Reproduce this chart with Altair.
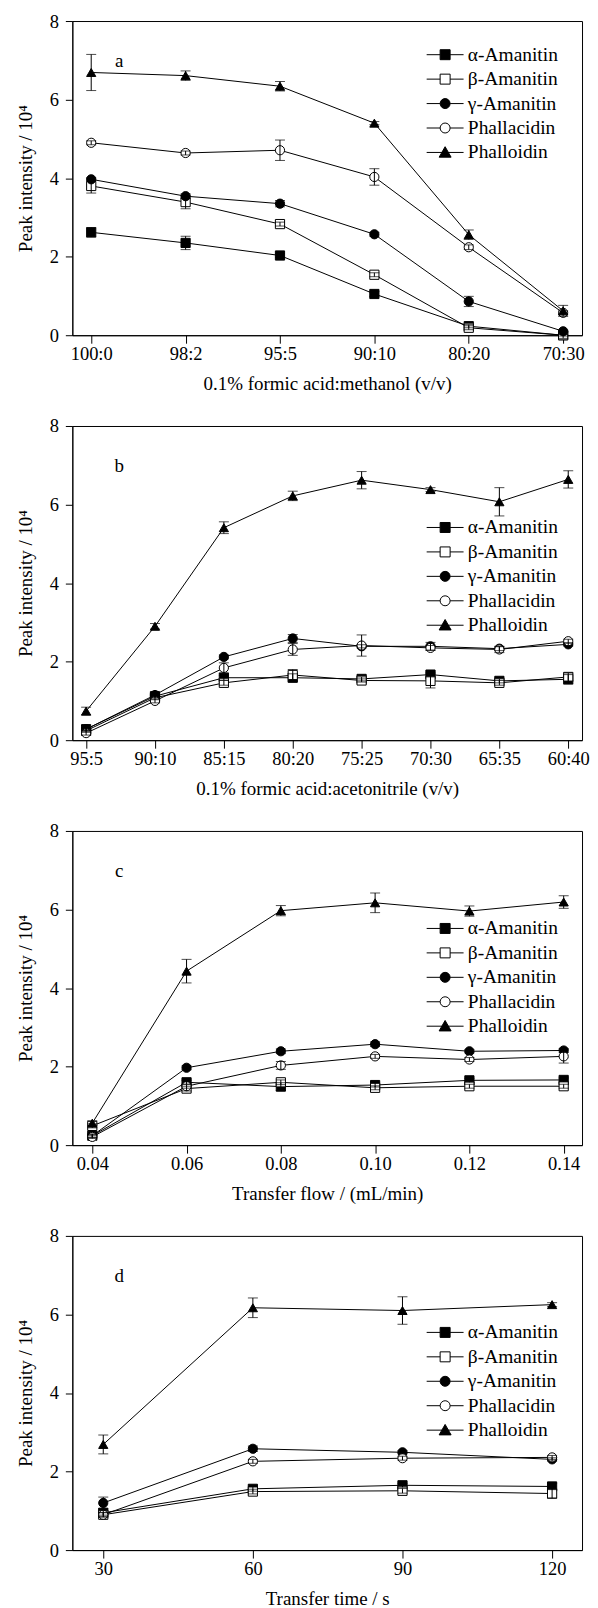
import altair as alt
import pandas as pd

series = ["α-Amanitin", "β-Amanitin", "γ-Amanitin", "Phallacidin", "Phalloidin"]
point_shapes = ["square", "square", "circle", "circle", "triangle-up"]
fills = ["black", "white", "black", "white", "black"]
legend_shapes = [
    "M-3.7,0H-1M1,0H3.7M-1,-1H1V1H-1Z",
    "M-3.7,0H-1M1,0H3.7M-1,-1H1V1H-1Z",
    "M-3.7,0H-1M1,0H3.7M-1,0A1,1,0,1,0,1,0A1,1,0,1,0,-1,0Z",
    "M-3.7,0H-1M1,0H3.7M-1,0A1,1,0,1,0,1,0A1,1,0,1,0,-1,0Z",
    "M-3.7,0H-0.5M0.5,0H3.7M0,-1.15L1.2,0.95H-1.2Z",
]

# Panel a: 0.1% formic acid:methanol
a_x = ["100:0", "98:2", "95:5", "90:10", "80:20", "70:30"]
a_vals = {
    "α-Amanitin": [2.62, 2.35, 2.03, 1.05, 0.23, 0.00],
    "β-Amanitin": [3.80, 3.39, 2.83, 1.54, 0.19, 0.00],
    "γ-Amanitin": [3.97, 3.54, 3.35, 2.57, 0.86, 0.10],
    "Phallacidin": [4.90, 4.64, 4.71, 4.03, 2.24, 0.57],
    "Phalloidin": [6.69, 6.61, 6.34, 5.40, 2.56, 0.62],
}
a_errs = {
    "α-Amanitin": [0.12, 0.17, 0.05, 0.06, 0.04, 0.02],
    "β-Amanitin": [0.18, 0.17, 0.05, 0.05, 0.05, 0.08],
    "γ-Amanitin": [0.04, 0.06, 0.08, 0.05, 0.13, 0.03],
    "Phallacidin": [0.05, 0.05, 0.26, 0.21, 0.06, 0.05],
    "Phalloidin": [0.46, 0.12, 0.12, 0.04, 0.12, 0.14],
}

# Panel b: 0.1% formic acid:acetonitrile
b_x = ["95:5", "90:10", "85:15", "80:20", "75:25", "70:30", "65:35", "60:40"]
b_vals = {
    "α-Amanitin": [0.28, 1.12, 1.59, 1.59, 1.56, 1.67, 1.51, 1.55],
    "β-Amanitin": [0.24, 1.08, 1.46, 1.66, 1.52, 1.51, 1.46, 1.61],
    "γ-Amanitin": [0.28, 1.15, 2.12, 2.59, 2.39, 2.39, 2.33, 2.44],
    "Phallacidin": [0.18, 1.00, 1.84, 2.31, 2.41, 2.35, 2.31, 2.52],
    "Phalloidin": [0.74, 2.90, 5.41, 6.22, 6.62, 6.38, 6.07, 6.64],
}
b_errs = {
    "α-Amanitin": [0.04, 0.04, 0.06, 0.10, 0.05, 0.06, 0.05, 0.12],
    "β-Amanitin": [0.04, 0.05, 0.06, 0.14, 0.04, 0.18, 0.06, 0.10],
    "γ-Amanitin": [0.04, 0.05, 0.05, 0.10, 0.04, 0.10, 0.05, 0.04],
    "Phallacidin": [0.05, 0.05, 0.13, 0.15, 0.27, 0.06, 0.08, 0.05],
    "Phalloidin": [0.10, 0.07, 0.15, 0.12, 0.22, 0.05, 0.36, 0.22],
}

# Panel c: transfer flow
c_x = [0.04, 0.06, 0.08, 0.10, 0.12, 0.14]
c_vals = {
    "α-Amanitin": [0.24, 1.60, 1.49, 1.53, 1.65, 1.66],
    "β-Amanitin": [0.49, 1.44, 1.60, 1.46, 1.50, 1.50],
    "γ-Amanitin": [0.24, 1.97, 2.39, 2.57, 2.39, 2.41],
    "Phallacidin": [0.21, 1.50, 2.03, 2.26, 2.18, 2.26],
    "Phalloidin": [0.56, 4.43, 5.97, 6.17, 5.96, 6.19],
}
c_errs = {
    "α-Amanitin": [0.04, 0.05, 0.10, 0.05, 0.05, 0.05],
    "β-Amanitin": [0.05, 0.06, 0.06, 0.05, 0.05, 0.05],
    "γ-Amanitin": [0.04, 0.05, 0.06, 0.06, 0.04, 0.05],
    "Phallacidin": [0.04, 0.05, 0.10, 0.05, 0.05, 0.17],
    "Phalloidin": [0.06, 0.30, 0.13, 0.25, 0.13, 0.16],
}

# Panel d: transfer time
d_x = [30, 60, 90, 120]
d_vals = {
    "α-Amanitin": [0.95, 1.56, 1.65, 1.62],
    "β-Amanitin": [0.90, 1.49, 1.51, 1.44],
    "γ-Amanitin": [1.20, 2.58, 2.49, 2.31],
    "Phallacidin": [0.90, 2.26, 2.34, 2.36],
    "Phalloidin": [2.69, 6.17, 6.10, 6.25],
}
d_errs = {
    "α-Amanitin": [0.06, 0.06, 0.05, 0.08],
    "β-Amanitin": [0.06, 0.06, 0.06, 0.12],
    "γ-Amanitin": [0.15, 0.07, 0.04, 0.04],
    "Phallacidin": [0.05, 0.05, 0.05, 0.05],
    "Phalloidin": [0.24, 0.25, 0.35, 0.05],
}

FONT = "Liberation Serif"
FS = 19
W = 511


def make_df(xs, vals, errs):
    rows = []
    for s in series:
        for i, xv in enumerate(xs):
            v = vals[s][i]
            e = errs[s][i]
            rows.append({"x": xv, "series": s, "y": v, "lo": v - e, "hi": v + e})
    return pd.DataFrame(rows)


def panel(xs, vals, errs, letter, xtitle, legend_y, ordinal=True, domain=None, fmt=None):
    df = make_df(xs, vals, errs)
    if ordinal:
        xenc = alt.X(
            "x:O",
            sort=xs,
            scale=alt.Scale(type="point", padding=0.2),
            axis=alt.Axis(title=xtitle, labelAngle=0),
        )
    else:
        if fmt:
            ax = alt.Axis(title=xtitle, values=xs, format=fmt)
        else:
            ax = alt.Axis(title=xtitle, values=xs)
        xenc = alt.X("x:Q", scale=alt.Scale(domain=domain, nice=False, zero=False), axis=ax)

    yaxis = alt.Axis(
        title="Peak intensity / 10⁴",
        values=[0, 1, 2, 3, 4, 5, 6, 7, 8],
        labelExpr="datum.value % 2 === 0 ? datum.label : ''",
        tickSize={"condition": {"test": "datum.value % 2 === 0", "value": 7}, "value": 3},
        labelPadding=7,
        titlePadding=13.5,
    )
    yenc = alt.Y("y:Q", scale=alt.Scale(domain=[0, 8], nice=False), axis=yaxis)

    base = alt.Chart(df)
    line = base.mark_line(color="black", strokeWidth=1).encode(x=xenc, y=yenc, detail="series:N")
    pts = base.mark_point(filled=True, stroke="black", strokeWidth=1, size=85, opacity=1).encode(
        x=xenc,
        y=alt.Y("y:Q"),
        shape=alt.Shape("series:N", scale=alt.Scale(domain=series, range=point_shapes), legend=None),
        fill=alt.Fill("series:N", scale=alt.Scale(domain=series, range=fills), legend=None),
    )
    rule = base.mark_rule(color="black", strokeWidth=1).encode(x=xenc, y="lo:Q", y2="hi:Q")
    cap_lo = base.mark_tick(orient="horizontal", color="black", size=10, thickness=1).encode(x=xenc, y="lo:Q")
    cap_hi = base.mark_tick(orient="horizontal", color="black", size=10, thickness=1).encode(x=xenc, y="hi:Q")
    leg = base.mark_point(filled=True, stroke="black", strokeWidth=1, opacity=0).encode(
        x=xenc,
        y=alt.Y("y:Q"),
        shape=alt.Shape(
            "series:N",
            scale=alt.Scale(domain=series, range=legend_shapes),
            legend=alt.Legend(
                title=None,
                orient="none",
                legendX=364,
                legendY=legend_y,
                symbolSize=100,
                symbolStrokeWidth=1,
                symbolOpacity=1,
                labelFont=FONT,
                labelFontSize=19.5,
                labelColor="black",
                labelOffset=13,
                rowPadding=3.5,
                padding=0,
            ),
        ),
        fill=alt.Fill("series:N", scale=alt.Scale(domain=series, range=fills)),
    )
    txt = alt.Chart(pd.DataFrame({"t": [letter]})).mark_text(
        font=FONT, fontSize=FS, align="center", baseline="middle", color="black"
    ).encode(x=alt.value(47), y=alt.value(40), text="t:N")

    lay = alt.layer(line, pts, leg, rule, cap_lo, cap_hi, txt).resolve_scale(
        shape="independent", fill="independent"
    ).resolve_legend(shape="independent", fill="independent")
    return lay.properties(width=W, height=315)


pa = panel(a_x, a_vals, a_errs, "a", "0.1% formic acid:methanol (v/v)", 24)
pb = panel(b_x, b_vals, b_errs, "b", "0.1% formic acid:acetonitrile (v/v)", 92)
pc = panel(c_x, c_vals, c_errs, "c", "Transfer flow / (mL/min)", 88, ordinal=False,
           domain=[0.03577, 0.14389], fmt=".2f")
pd_ = panel(d_x, d_vals, d_errs, "d", "Transfer time / s", 87, ordinal=False,
            domain=[23.8, 126.0])

chart = alt.vconcat(pa, pb, pc, pd_, spacing=22).resolve_scale(
    shape="independent", fill="independent"
).resolve_legend(shape="independent", fill="independent").properties(
    padding={"left": 7.5, "top": 1, "right": 0, "bottom": 0}
).configure(font=FONT).configure_view(stroke="black", strokeWidth=1).configure_axis(
    grid=False,
    domainColor="black",
    domainWidth=1,
    tickColor="black",
    tickWidth=1,
    tickSize=8,
    labelFont=FONT,
    labelFontSize=18.5,
    labelColor="black",
    labelPadding=1.5,
    titleFont=FONT,
    titleFontSize=FS,
    titleFontWeight="normal",
    titleColor="black",
    titlePadding=11.5,
)

chart.save("out.html", embed_options={"renderer": "svg", "actions": False})
